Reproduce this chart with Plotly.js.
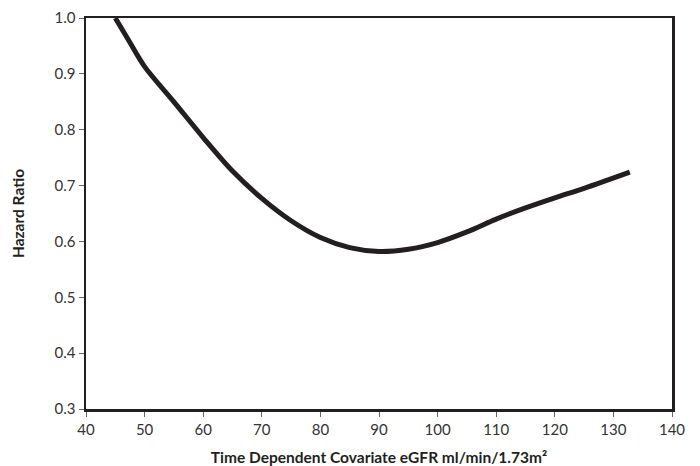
<!DOCTYPE html>
<html>
<head>
<meta charset="utf-8">
<script src="https://cdn.plot.ly/plotly-3.0.1.min.js"></script>
<style>html,body{margin:0;padding:0;background:#fff;}#chart{width:700px;height:466px;}</style>
</head>
<body>
<div id="chart"></div>
<script>
const egfr = [45.0, 47.5, 50, 55, 60, 65, 70, 75, 80, 85, 90, 95, 100, 105, 110, 115, 120, 125, 132.8];
const hazardRatio = [1.0, 0.956, 0.913, 0.850, 0.786, 0.726, 0.677, 0.637, 0.607, 0.589, 0.582, 0.586, 0.598, 0.617, 0.640, 0.660, 0.678, 0.695, 0.724];
const xTicks = [40, 50, 60, 70, 80, 90, 100, 110, 120, 130, 140];
const yTicks = [0.3, 0.4, 0.5, 0.6, 0.7, 0.8, 0.9, 1.0];

const fontFam = 'Lato, "Noto Sans", sans-serif';
Plotly.newPlot('chart', [{
  x: egfr, y: hazardRatio, type: 'scatter', mode: 'lines',
  line: {color: '#231f20', width: 5, shape: 'spline', smoothing: 0.9},
  hoverinfo: 'skip'
}], {
  width: 700, height: 466,
  margin: {l: 85.5, r: 28, t: 18, b: 57, pad: 0},
  paper_bgcolor: '#fff', plot_bgcolor: '#fff',
  showlegend: false,
  font: {family: fontFam, color: '#333'},
  xaxis: {
    range: [40, 140], tickvals: xTicks, ticktext: xTicks.map(String),
    showline: true, mirror: true, linecolor: '#231f20', linewidth: 2.5,
    ticks: 'outside', ticklen: 5, tickwidth: 1, tickcolor: '#666',
    showgrid: false, zeroline: false,
    tickfont: {size: 15, color: '#333', family: fontFam},
    title: {text: 'Time Dependent Covariate eGFR ml/min/1.73m²', font: {size: 15.5, color: '#231f20', family: fontFam, weight: 'bold'}, standoff: 16}
  },
  yaxis: {
    range: [0.3, 1.0], tickvals: yTicks, ticktext: yTicks.map(v => v.toFixed(1)),
    showline: true, mirror: true, linecolor: '#231f20', linewidth: 2.5,
    ticks: 'outside', ticklen: 5, tickwidth: 1, tickcolor: '#666',
    showgrid: false, zeroline: false,
    tickfont: {size: 15, color: '#333', family: fontFam},
    title: {text: 'Hazard Ratio', font: {size: 15.5, color: '#231f20', family: fontFam, weight: 'bold'}, standoff: 26}
  }
}, {staticPlot: true});
</script>
</body>
</html>
